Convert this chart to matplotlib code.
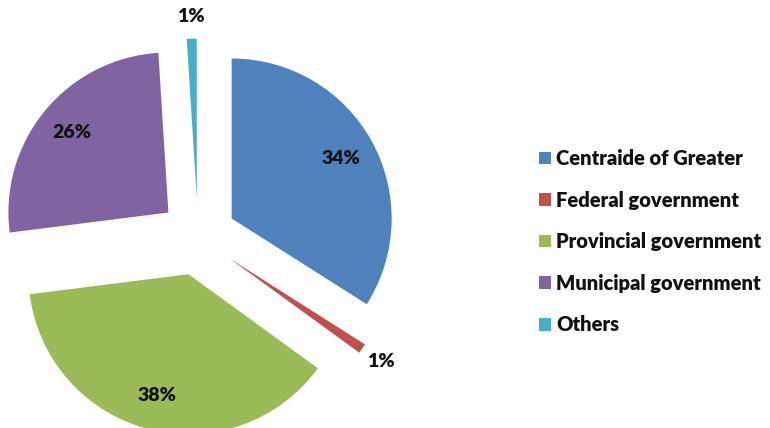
import numpy as np
import matplotlib
matplotlib.use('Agg')
from matplotlib import pyplot as plt

# データ
labels = ['Centraide of Greater', 'Federal government', 'Provincial government',
          'Municipal government', 'Others']
values = [34, 1, 38, 26, 1]
colors = ['#4F81BD', '#C0504D', '#9BBB59', '#8064A2', '#4BACC6']

plt.rcParams['font.family'] = ['Lato', 'DejaVu Sans']

W, H = 770, 428
fig = plt.figure(figsize=(W / 100, H / 100), dpi=100)

# 円の中心と半径（ピクセル）
cx, cy, r = 198, 428 - 237, 160
aw = 420
ax = fig.add_axes([0, 0, aw / W, 1])

wedges, texts, autotexts = ax.pie(
    values, colors=colors, startangle=90, counterclock=False,
    explode=[0.24] * len(values), autopct='%d%%', pctdistance=0.78,
    textprops=dict(fontsize=14, fontweight='heavy', color='#111111'))

# 小さい値のラベルは外側へ
for w, t, v in zip(wedges, autotexts, values):
    if v < 5:
        ang = np.deg2rad((w.theta1 + w.theta2) / 2)
        ox, oy = w.center
        t.set_position((ox + 1.14 * np.cos(ang), oy + 1.14 * np.sin(ang)))

ax.set_xlim(-cx / r, (aw - cx) / r)
ax.set_ylim(-cy / r, (H - cy) / r)
ax.set_aspect('auto')
ax.axis('off')

leg = fig.legend(wedges, labels, loc='upper left',
                 bbox_to_anchor=(539 / W, 1 - 149 / H), frameon=False,
                 prop=dict(size=14.5, weight='heavy'),
                 handlelength=0.6, handleheight=0.6, handletextpad=0.25,
                 labelspacing=1.12, borderaxespad=0, borderpad=0)
for t in leg.get_texts():
    t.set_color('#111111')

fig.savefig('out.png', dpi=100)
plt.close()
